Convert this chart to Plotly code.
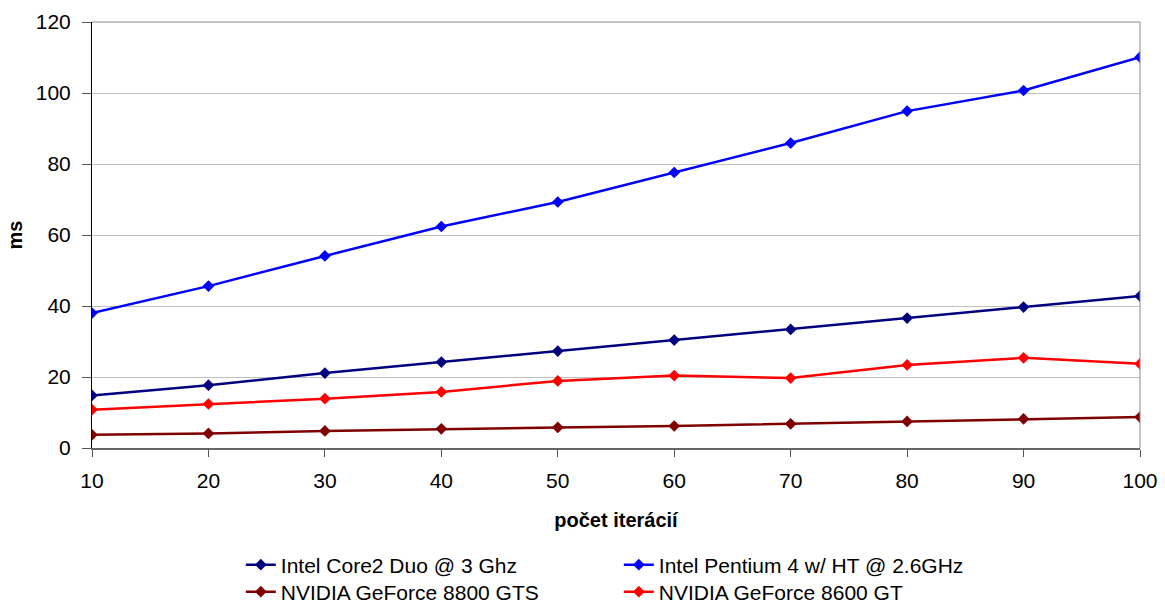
import plotly.graph_objects as go

iterations = [10, 20, 30, 40, 50, 60, 70, 80, 90, 100]
core2_duo = [14.8, 17.7, 21.1, 24.2, 27.3, 30.4, 33.4, 36.6, 39.7, 42.8]
pentium4 = [38.0, 45.6, 54.1, 62.4, 69.3, 77.6, 85.9, 94.9, 100.7, 110.1]
gf8800gts = [3.7, 4.1, 4.8, 5.4, 5.8, 6.2, 6.8, 7.5, 8.2, 8.7]
gf8600gt = [10.8, 12.4, 13.9, 15.8, 18.9, 20.4, 19.7, 23.4, 25.4, 23.7]

series = [
    ("Intel Core2 Duo @ 3 Ghz", core2_duo, "#000080", "legend"),
    ("Intel Pentium 4 w/ HT @ 2.6GHz", pentium4, "#0000FF", "legend"),
    ("NVIDIA GeForce 8800 GTS", gf8800gts, "#800000", "legend2"),
    ("NVIDIA GeForce 8600 GT", gf8600gt, "#FF0000", "legend2"),
]

fig = go.Figure()
for name, vals, col, lg in series:
    fig.add_trace(go.Scatter(
        x=iterations, y=vals, name=name, mode="lines+markers",
        line=dict(color=col, width=2.5),
        marker=dict(symbol="diamond", size=9, color=col),
        legend=lg,
    ))

font = "Liberation Sans, Arial, sans-serif"
legend_common = dict(orientation="h", xanchor="left", yanchor="middle",
                     font=dict(family=font, size=21, color="#000"),
                     entrywidth=333, entrywidthmode="pixels",
                     bgcolor="rgba(0,0,0,0)", itemclick=False, tracegroupgap=0)

fig.update_layout(
    width=1165, height=605,
    margin=dict(l=92, r=25, t=22, b=157, autoexpand=False),
    paper_bgcolor="white", plot_bgcolor="white",
    font=dict(family=font, size=21, color="#000"),
    showlegend=True,
    legend=dict(x=0.142, y=(448 - 565) / 426, **legend_common),
    legend2=dict(x=0.142, y=(448 - 592) / 426, **legend_common),
    xaxis=dict(
        range=[10, 100], tickvals=iterations, ticks="outside", ticklen=7,
        tickcolor="#555", showline=True, linecolor="#666", linewidth=2,
        showgrid=False, zeroline=False, mirror=False,
        tickfont=dict(size=21), ticklabelstandoff=6,
        title=dict(text="<b>počet iterácií</b>", font=dict(size=20), standoff=22),
    ),
    yaxis=dict(
        range=[0, 120], tickvals=[0, 20, 40, 60, 80, 100, 120], ticks="outside",
        ticklen=9, tickcolor="#555", showline=True, linecolor="#000", linewidth=1,
        showgrid=True, gridcolor="#C0C0C0", gridwidth=1, zeroline=False,
        tickfont=dict(size=21), ticklabelstandoff=7,
        title=dict(text="<b>ms</b>", font=dict(size=20), standoff=7),
    ),
)
# right and top border of plot area
fig.add_shape(type="line", xref="paper", yref="paper", x0=1, x1=1, y0=0, y1=1,
              line=dict(color="#888", width=1))
fig.add_shape(type="line", xref="paper", yref="paper", x0=0, x1=1, y0=1, y1=1,
              line=dict(color="#888", width=1))

fig.write_html("out.html")
